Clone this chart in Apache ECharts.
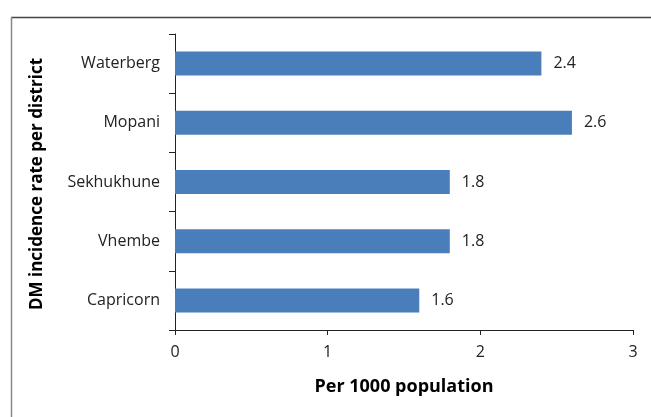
<!DOCTYPE html>
<html><head><meta charset="utf-8">
<script src="https://cdn.jsdelivr.net/npm/echarts@6/dist/echarts.min.js"></script>
<style>html,body{margin:0;padding:0;background:#fff}#c{width:651px;height:417px}</style>
</head><body><div id="c"></div>
<script>
const categories = ['Capricorn', 'Vhembe', 'Sekhukhune', 'Mopani', 'Waterberg'];
const values = [1.6, 1.8, 1.8, 2.6, 2.4];
const xTicks = [0, 1, 2, 3];
const xTitle = 'Per 1000 population';
const yTitle = 'DM incidence rate per district';

const font = '"Open Sans", "Liberation Sans", sans-serif';
const chart = echarts.init(document.getElementById('c'), null, {renderer: 'canvas'});
chart.setOption({
  animation: false,
  backgroundColor: '#fff',
  graphic: [
    {type: 'line', shape: {x1: 11, y1: 17.5, x2: 660, y2: 17.5}, style: {stroke: '#444', lineWidth: 1.5}},
    {type: 'line', shape: {x1: 11.5, y1: 17, x2: 11.5, y2: 420}, style: {stroke: '#888', lineWidth: 1.5}},
    {type: 'text', x: 37, y: 184, rotation: Math.PI/2,
     style: {text: yTitle, font: 'bold 17px ' + font, fill: '#000', align: 'center', verticalAlign: 'middle'}}
  ],
  grid: {left: 175, right: 18, top: 34, bottom: 87, containLabel: false},
  xAxis: {
    type: 'value', min: xTicks[0], max: xTicks[xTicks.length-1], interval: 1,
    axisLine: {show: true, lineStyle: {color: '#222', width: 1}},
    axisTick: {show: true, length: 5, lineStyle: {color: '#222'}},
    splitLine: {show: false},
    axisLabel: {color: '#222', fontSize: 16, fontFamily: font, margin: 14},
    name: xTitle, nameLocation: 'middle', nameGap: 48,
    nameTextStyle: {color: '#000', fontSize: 18, fontWeight: 'bold', fontFamily: font}
  },
  yAxis: {
    type: 'category', data: categories,
    axisLine: {show: true, lineStyle: {color: '#222', width: 1}},
    axisTick: {show: true, length: 6, lineStyle: {color: '#222'}},
    axisLabel: {color: '#222', fontSize: 16, fontFamily: font, margin: 15}
  },
  series: [{
    type: 'bar', data: values, barWidth: 24,
    itemStyle: {color: '#4a7ebb'},
    label: {show: true, position: 'right', distance: 12, color: '#222', fontSize: 16, fontFamily: font,
            formatter: p => p.value.toFixed(1)}
  }]
});
</script></body></html>
